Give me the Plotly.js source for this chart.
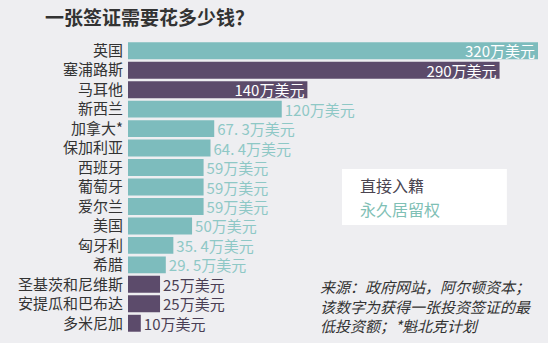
<!DOCTYPE html>
<html><head><meta charset="utf-8">
<script src="https://cdn.plot.ly/plotly-3.0.1.min.js"></script>
<style>html,body{margin:0;padding:0;background:#ffffff;}</style>
</head><body>
<div id="chart" style="width:548px;height:351px;"></div>
<script>
const countries = ["英国","塞浦路斯","马耳他","新西兰","加拿大*","保加利亚","西班牙","葡萄牙","爱尔兰","美国","匈牙利","希腊","圣基茨和尼维斯","安提瓜和巴布达","多米尼加"];
const values = [320,290,140,120,67.3,64.4,59,59,59,50,35.4,29.5,25,25,10];
const labels = ["320万美元","290万美元","140万美元","120万美元","67. 3万美元","64. 4万美元","59万美元","59万美元","59万美元","50万美元","35. 4万美元","29. 5万美元","25万美元","25万美元","10万美元"];
const visaType = ["permanent","citizen","citizen","permanent","permanent","permanent","permanent","permanent","permanent","permanent","permanent","permanent","citizen","citizen","citizen"];
const legendLabels = ["直接入籍","永久居留权"];
const sourceLines = ["来源：政府网站，阿尔顿资本；","该数字为获得一张投资签证的最","低投资额；*魁北克计划"];
const titleText = "一张签证需要花多少钱？";

const TEAL = "#7dbcbd", PURPLE = "#5c4b6b", TEAL_TXT = "#8ec8c6", PURPLE_TXT = "#4a3f55";
const colors = visaType.map(t => t === "citizen" ? PURPLE : TEAL);
const textpos = values.map(v => v >= 140 ? "inside" : "outside");
const textcolors = values.map((v, i) => v >= 140 ? "#ffffff" : (visaType[i] === "citizen" ? PURPLE_TXT : TEAL_TXT));

const font = "Noto Sans CJK SC, sans-serif";
const trace = {
  type: "bar", orientation: "h",
  x: values, y: countries,
  marker: {color: colors},
  text: labels, textposition: textpos, insidetextanchor: "end",
  textfont: {family: font, size: 15, color: textcolors},
  constraintext: "none", cliponaxis: false,
  hoverinfo: "none"
};
const layout = {
  width: 548, height: 351,
  margin: {l: 128, r: 10, t: 41, b: 18},
  paper_bgcolor: "#eeeef1", plot_bgcolor: "#eeeef1",
  bargap: 0.13,
  showlegend: false,
  title: {text: titleText, font: {family: font, size: 19, color: "#333333", weight: "bold"},
          xref: "container", yref: "container", x: 45/548, xanchor: "left", y: 1 - 18/351, yanchor: "middle"},
  xaxis: {range: [0, 320], visible: false, fixedrange: true},
  yaxis: {autorange: "reversed", showgrid: false, zeroline: false, showline: false, ticks: "",
          tickfont: {family: font, size: 15, color: "#333333"}, ticklabelstandoff: 4},
  shapes: [
    {type: "rect", xref: "paper", yref: "paper", x0: 0.522, x1: 0.924, y0: 0.37, y1: 0.562,
     fillcolor: "#ffffff", line: {width: 0}, layer: "below"},
    {type: "rect", xref: "paper", yref: "paper", x0: -0.4, x1: 1.1, y0: -0.034, y1: -0.1,
     fillcolor: "#ffffff", line: {width: 0}, layer: "below"}
  ],
  annotations: [
    {xref: "paper", yref: "paper", x: 0.561, y: 0.506, xanchor: "left", yanchor: "middle", showarrow: false,
     text: legendLabels[0], font: {family: font, size: 16, color: "#4a4450"}},
    {xref: "paper", yref: "paper", x: 0.561, y: 0.425, xanchor: "left", yanchor: "middle", showarrow: false,
     text: legendLabels[1], font: {family: font, size: 16, color: "#7fc0b5"}},
    {xref: "paper", yref: "paper", x: 0.463, y: 0.0925, xanchor: "left", yanchor: "middle", align: "left", showarrow: false,
     text: sourceLines.map(s => "<i>" + s + "</i>").join("<br>"), font: {family: font, size: 15, color: "#333333"}}
  ]
};
Plotly.newPlot("chart", [trace], layout, {staticPlot: true});
</script>
</body></html>
